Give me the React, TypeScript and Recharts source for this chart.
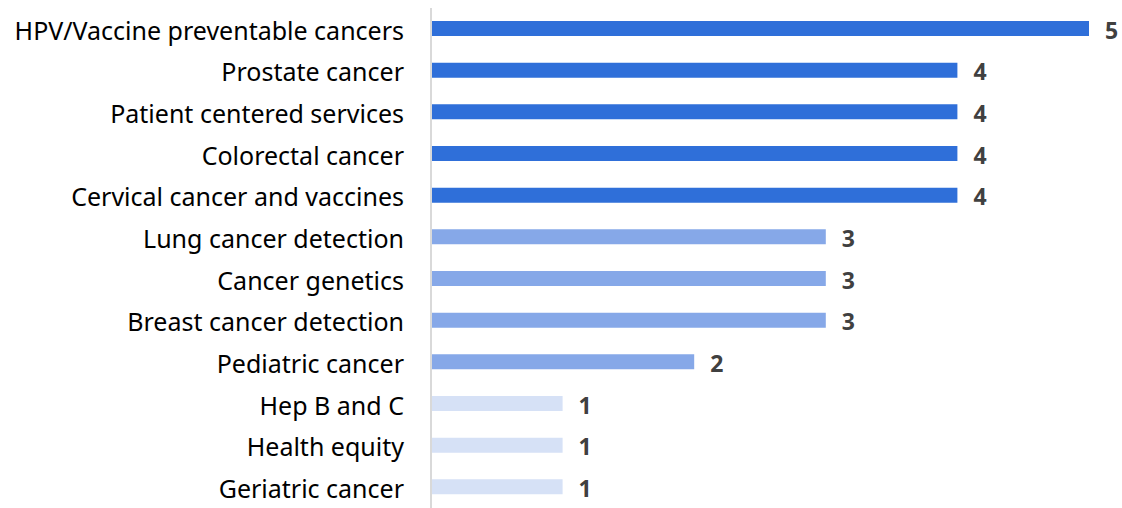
import React from "react"
import { BarChart, Bar, XAxis, YAxis, Cell, LabelList } from "recharts"

const topics = [
  "HPV/Vaccine preventable cancers",
  "Prostate cancer",
  "Patient centered services",
  "Colorectal cancer",
  "Cervical cancer and vaccines",
  "Lung cancer detection",
  "Cancer genetics",
  "Breast cancer detection",
  "Pediatric cancer",
  "Hep B and C",
  "Health equity",
  "Geriatric cancer",
]
const counts = [5, 4, 4, 4, 4, 3, 3, 3, 2, 1, 1, 1]

const data = topics.map((topic, i) => ({ topic, count: counts[i] }))

// shade by count, like the original
const colorFor = (v: number) => (v >= 4 ? "#2F6FD9" : v >= 2 ? "#86A8E8" : "#D6E1F6")

const FONT = "'Noto Sans', 'Open Sans', sans-serif"

export default function App() {
  return (
    <div style={{ position: "absolute", left: 0, top: 0, background: "#fff" }}>
      <BarChart
        width={1122}
        height={508}
        data={data}
        layout="vertical"
        margin={{ top: 8, right: 33, bottom: 0, left: 0 }}
        barSize={15}
      >
        <XAxis type="number" domain={[0, 5]} hide />
        <YAxis
          type="category"
          dataKey="topic"
          width={431}
          tickLine={false}
          axisLine={{ stroke: "#d9d9d9", strokeWidth: 2 }}
          tickMargin={21}
          interval={0}
          tick={{ fill: "#000", fontSize: 25, fontFamily: FONT, dy: 2 }}
        />
        <Bar dataKey="count" isAnimationActive={false}>
          {data.map((d) => (
            <Cell key={d.topic} fill={colorFor(d.count)} />
          ))}
          <LabelList
            dataKey="count"
            position="right"
            offset={16}
            fill="#404040"
            fontSize={23}
            fontWeight="bold"
            fontFamily={FONT}
            dy={2}
          />
        </Bar>
      </BarChart>
    </div>
  )
}
